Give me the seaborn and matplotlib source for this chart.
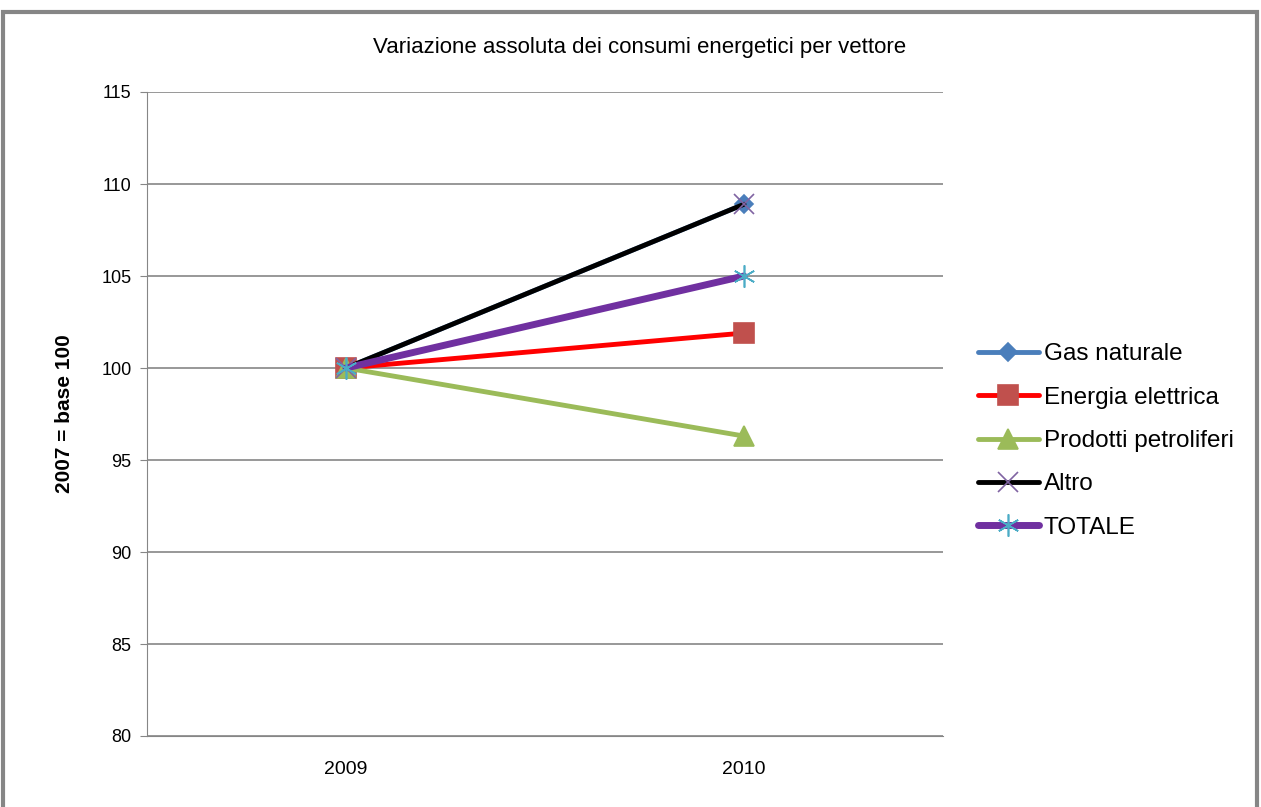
import matplotlib
matplotlib.use("Agg")
import matplotlib.pyplot as plt
import seaborn as sns
import pandas as pd
from matplotlib.patches import Rectangle

anni = ["2009", "2010"]
gas_naturale = [100, 108.9]
energia_elettrica = [100, 101.9]
prodotti_petroliferi = [100, 96.3]
altro = [100, 108.9]
totale = [100, 105.0]

serie = [
    ("Gas naturale", gas_naturale, "#4a7ebb", "D", "#4a7ebb", 3.5, 9),
    ("Energia elettrica", energia_elettrica, "#ff0000", "s", "#c0504d", 3.5, 15),
    ("Prodotti petroliferi", prodotti_petroliferi, "#9bbb59", "^", "#9bbb59", 3.5, 15),
    ("Altro", altro, "#000000", "x", "#8064a2", 3.5, 14),
    ("TOTALE", totale, "#7030a0", (6, 2, 0), "#4bacc6", 5, 16),
]

sns.set_style("white")
plt.rcParams["font.family"] = ["Liberation Sans", "DejaVu Sans"]
plt.rcParams["text.color"] = "black"
plt.rcParams["xtick.color"] = "black"
plt.rcParams["ytick.color"] = "black"
plt.rcParams["axes.labelcolor"] = "black"

fig = plt.figure(figsize=(12.61, 8.07), dpi=100)
ax = fig.add_axes([147 / 1261, 1 - 736 / 807, (943 - 147) / 1261, (736 - 92) / 807])

for nome, valori, col, marker, mcol, lw, ms in serie:
    df = pd.DataFrame({"x": range(len(anni)), "y": valori})
    sns.lineplot(data=df, x="x", y="y", ax=ax, color=col, linewidth=lw,
                 marker=marker, markersize=ms, markerfacecolor=mcol,
                 markeredgecolor=mcol, markeredgewidth=1.2, label=nome)

ax.set_xlim(-0.5, 1.5)
ax.set_ylim(80, 115)
ax.set_yticks(range(80, 116, 5))
ax.set_xticks(range(len(anni)))
ax.set_xticklabels(anni)
ax.yaxis.grid(True, color="#868686", linewidth=1.2)
ax.set_axisbelow(True)
for s in ["top", "right"]:
    ax.spines[s].set_visible(False)
ax.spines["left"].set_color("#868686")
ax.spines["bottom"].set_color("#868686")
ax.tick_params(axis="y", length=5, color="#868686", labelcolor="black", labelsize=13, pad=6, direction="out", left=True)
ax.tick_params(axis="x", length=0, labelcolor="black", labelsize=14, pad=18)
ax.set_xlabel("")
ax.set_ylabel("2007 = base 100", fontsize=15, fontweight="bold", labelpad=20)

fig.text(640 / 1261, 1 - 47 / 807, "Variazione assoluta dei consumi energetici per vettore",
         ha="center", va="center", fontsize=16)

leg = ax.legend(loc="center left", bbox_to_anchor=(956 / 1261, 1 - 441 / 807),
                bbox_transform=fig.transFigure, frameon=False, fontsize=17.5,
                handlelength=2.5, labelspacing=0.88, handletextpad=0.2)

fig.patches.append(Rectangle((3 / 1261, -0.05), (1257 - 3) / 1261, 1.05 - 12 / 807,
                             transform=fig.transFigure, fill=False,
                             edgecolor="#868686", linewidth=3))

fig.savefig("out.png", dpi=100)
